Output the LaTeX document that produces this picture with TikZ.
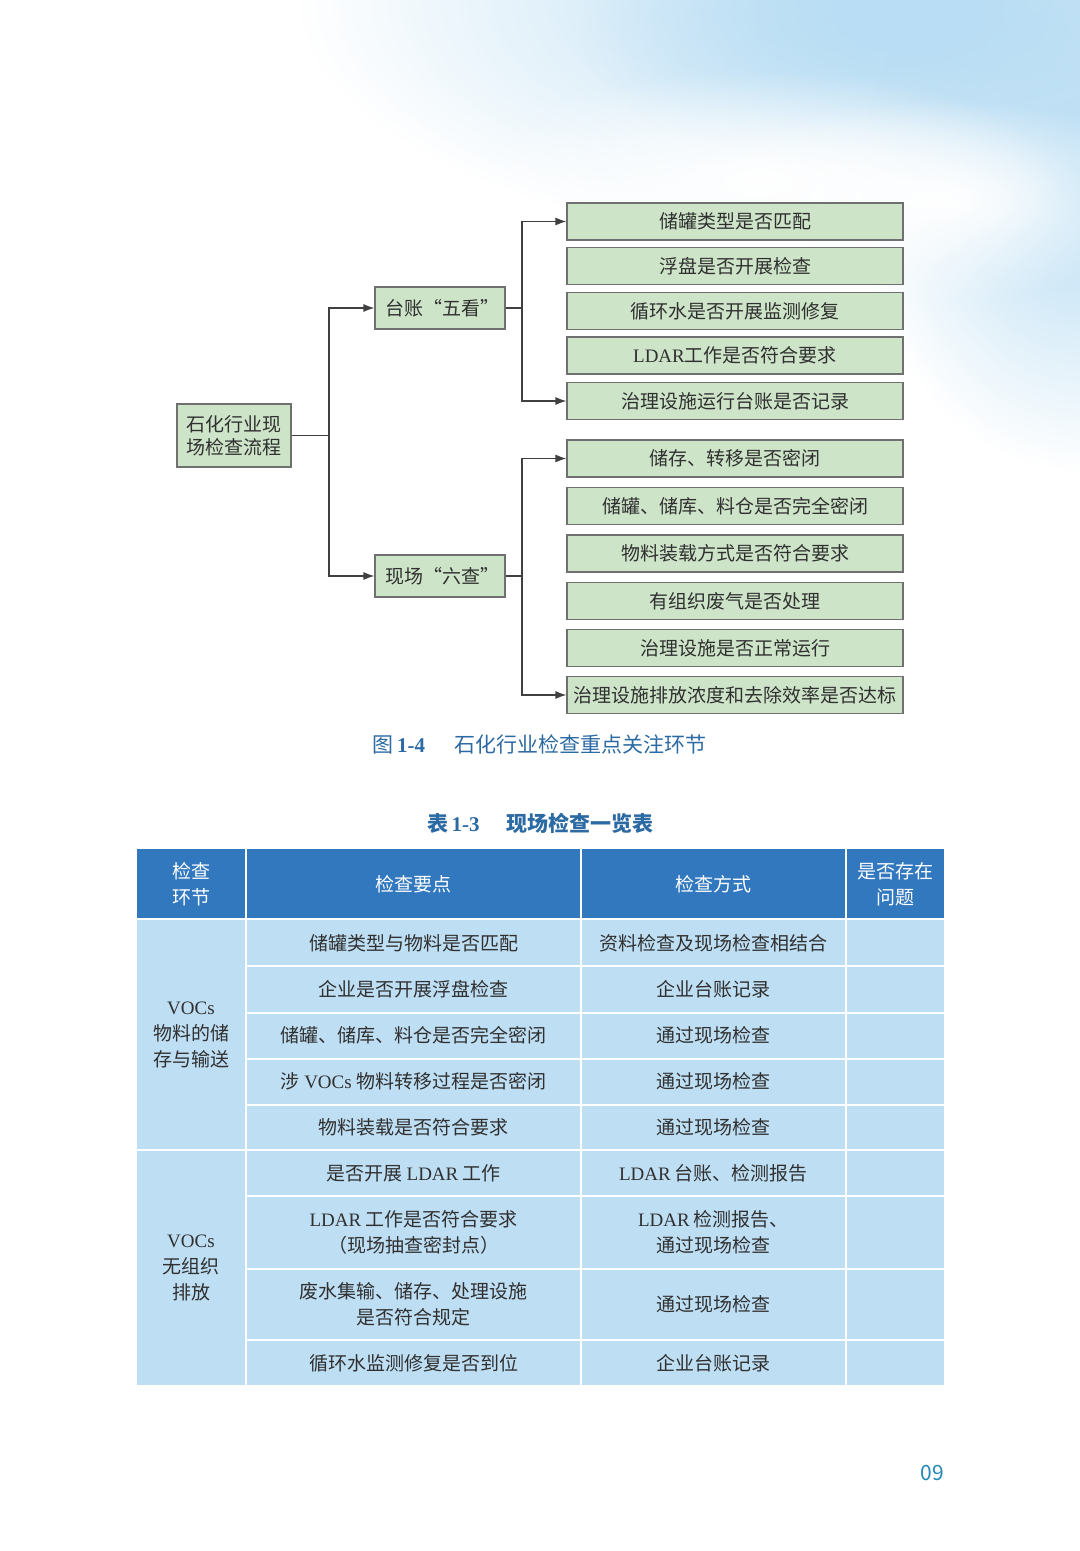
\documentclass[tikz,border=0pt]{standalone}
\usepackage{fontspec}
\setmainfont{Noto Sans CJK SC}
\newfontfamily\lat{Liberation Serif}
\usetikzlibrary{arrows.meta,fadings}
\definecolor{boxg}{HTML}{CDE4C8}
\definecolor{boxe}{HTML}{707070}
\definecolor{conn}{HTML}{404040}
\definecolor{thead}{HTML}{3278BF}
\definecolor{tbody}{HTML}{BEDEF3}
\definecolor{ttext}{HTML}{303030}
\definecolor{capblue}{HTML}{2C6AA3}
\definecolor{sky}{HTML}{B8DDF4}
\tikzfading[name=softc, inner color=transparent!0, outer color=transparent!100]
\newcommand\fsn{\fontsize{9.5pt}{11.5pt}\selectfont}
\newcommand\fst{\fontsize{9.5pt}{13pt}\selectfont}
\begin{document}
\begin{tikzpicture}[x=0.5pt,y=-0.5pt,
  fbox/.style={draw=boxe, fill=boxg, line width=0.6pt, inner sep=0pt, font=\fsn, text=ttext, align=center},
  rbox/.style={fbox, minimum width=168pt, minimum height=18.5pt},
  mbox/.style={fbox, minimum width=65pt, minimum height=21pt},
  arr/.style={draw=conn, line width=0.6pt, -{Latex[length=5.5pt,width=4pt]}},
  ln/.style={draw=conn, line width=0.6pt},
  sep/.style={draw=white, line width=1.2pt},
  ht/.style={font=\fst, text=white, align=center, inner sep=0pt},
  bt/.style={font=\fst, text=ttext, align=center, inner sep=0pt},
]
\useasboundingbox (0,0) rectangle (1080,1551);
\fill[white] (0,0) rectangle (1080,1551);
% sky background
\begin{scope}
\clip (0,0) rectangle (1080,1551);
\fill[sky, path fading=softc] (900,0) ellipse (600 and 250);
\fill[sky, path fading=softc] (900,30) ellipse (320 and 150);
\fill[sky, path fading=softc] (1080,190) ellipse (220 and 280);
\fill[white, path fading=softc] (760,180) ellipse (300 and 110);
\fill[white, path fading=softc] (940,200) ellipse (260 and 100);
\end{scope}

% flowchart
\node[fbox, minimum width=57pt, minimum height=31.5pt] (root) at (234,435.5) {石化行业现\\场检查流程};
\node[mbox] (tz) at (440,308) {\hspace{2pt}台账“五看”};
\node[mbox] (xc) at (440,576) {\hspace{2pt}现场“六查”};

\node[rbox] (r1) at (735,221.5) {储罐类型是否匹配};
\node[rbox] (r2) at (735,266) {浮盘是否开展检查};
\node[rbox] (r3) at (735,311) {循环水是否开展监测修复};
\node[rbox] (r4) at (735,355.5) {{\lat LDAR}工作是否符合要求};
\node[rbox] (r5) at (735,401) {治理设施运行台账是否记录};

\node[rbox] (s1) at (735,458.5) {储存、转移是否密闭};
\node[rbox] (s2) at (735,506) {储罐、储库、料仓是否完全密闭};
\node[rbox] (s3) at (735,553.5) {物料装载方式是否符合要求};
\node[rbox] (s4) at (735,601) {有组织废气是否处理};
\node[rbox] (s5) at (735,648) {治理设施是否正常运行};
\node[rbox] (s6) at (735,695) {治理设施排放浓度和去除效率是否达标};

\coordinate (j1) at (329,435.5);
\coordinate (j2) at (522,308);
\coordinate (j3) at (522,576);
\draw[ln] (root.east) -- (j1);
\draw[arr] (j1) |- (tz.west);
\draw[arr] (j1) |- (xc.west);
\draw[ln] (tz.east) -- (j2);
\draw[arr] (j2) |- (r1.west);
\draw[arr] (j2) |- (r5.west);
\draw[ln] (xc.east) -- (j3);
\draw[arr] (j3) |- (s1.west);
\draw[arr] (j3) |- (s6.west);

% captions
\node[text=capblue, font=\fontsize{10.5pt}{12pt}\selectfont, inner sep=0pt] (cap1) at (539.5,744)
  {图\,{\lat\bfseries 1-4}\hspace{1.4em}石化行业检查重点关注环节};
\node[text=capblue, font=\fontsize{10.5pt}{12pt}\selectfont\bfseries, inner sep=0pt] (cap2) at (540.5,823)
  {表\,{\lat\bfseries 1-3}\hspace{1.3em}现场检查一览表};

% table
\fill[tbody] (137,919) rectangle (944,1385);
\fill[thead] (137,849) rectangle (944,919);
\draw[sep] (246,849) -- (246,1385);
\draw[sep] (581,849) -- (581,1385);
\draw[sep] (846,849) -- (846,1385);
\draw[sep] (137,919) -- (944,919);
\draw[sep] (137,1150) -- (944,1150);
\foreach \yy in {966,1013,1059,1105,1196,1269,1340}
  \draw[sep] (246,\yy) -- (944,\yy);

\node[ht] (h1) at (191,884) {检查\\环节};
\node[ht] (h2) at (413.5,884) {检查要点};
\node[ht] (h3) at (713.5,884) {检查方式};
\node[ht] (h4) at (895.5,884) {是否存在\\问题};

\node[bt] (g1) at (191,1035) {{\lat VOCs}\\物料的储\\存与输送};
\node[bt] (g2) at (191,1268) {{\lat VOCs}\\无组织\\排放};

\node[bt] (a1) at (413.5,943) {储罐类型与物料是否匹配};
\node[bt] (a2) at (413.5,989) {企业是否开展浮盘检查};
\node[bt] (a3) at (413.5,1035) {储罐、储库、料仓是否完全密闭};
\node[bt] (a4) at (413.5,1081) {涉 {\lat VOCs} 物料转移过程是否密闭};
\node[bt] (a5) at (413.5,1127) {物料装载是否符合要求};
\node[bt] (a6) at (413.5,1173) {是否开展 {\lat LDAR} 工作};
\node[bt] (a7) at (413.5,1232) {{\lat LDAR} 工作是否符合要求\\（现场抽查密封点）};
\node[bt] (a8) at (413.5,1304) {废水集输、储存、处理设施\\是否符合规定};
\node[bt] (a9) at (413.5,1363) {循环水监测修复是否到位};

\node[bt] (b1) at (713.5,943) {资料检查及现场检查相结合};
\node[bt] (b2) at (713.5,989) {企业台账记录};
\node[bt] (b3) at (713.5,1035) {通过现场检查};
\node[bt] (b4) at (713.5,1081) {通过现场检查};
\node[bt] (b5) at (713.5,1127) {通过现场检查};
\node[bt] (b6) at (713.5,1173) {{\lat LDAR} 台账、检测报告};
\node[bt] (b7) at (713.5,1232) {{\lat LDAR} 检测报告、\\通过现场检查};
\node[bt] (b8) at (713.5,1304) {通过现场检查};
\node[bt] (b9) at (713.5,1363) {企业台账记录};

\node[text=capblue!80!cyan, font=\fontsize{10.5pt}{12pt}\selectfont, inner sep=0pt] (pg) at (932,1473) {09};
\end{tikzpicture}
\end{document}
